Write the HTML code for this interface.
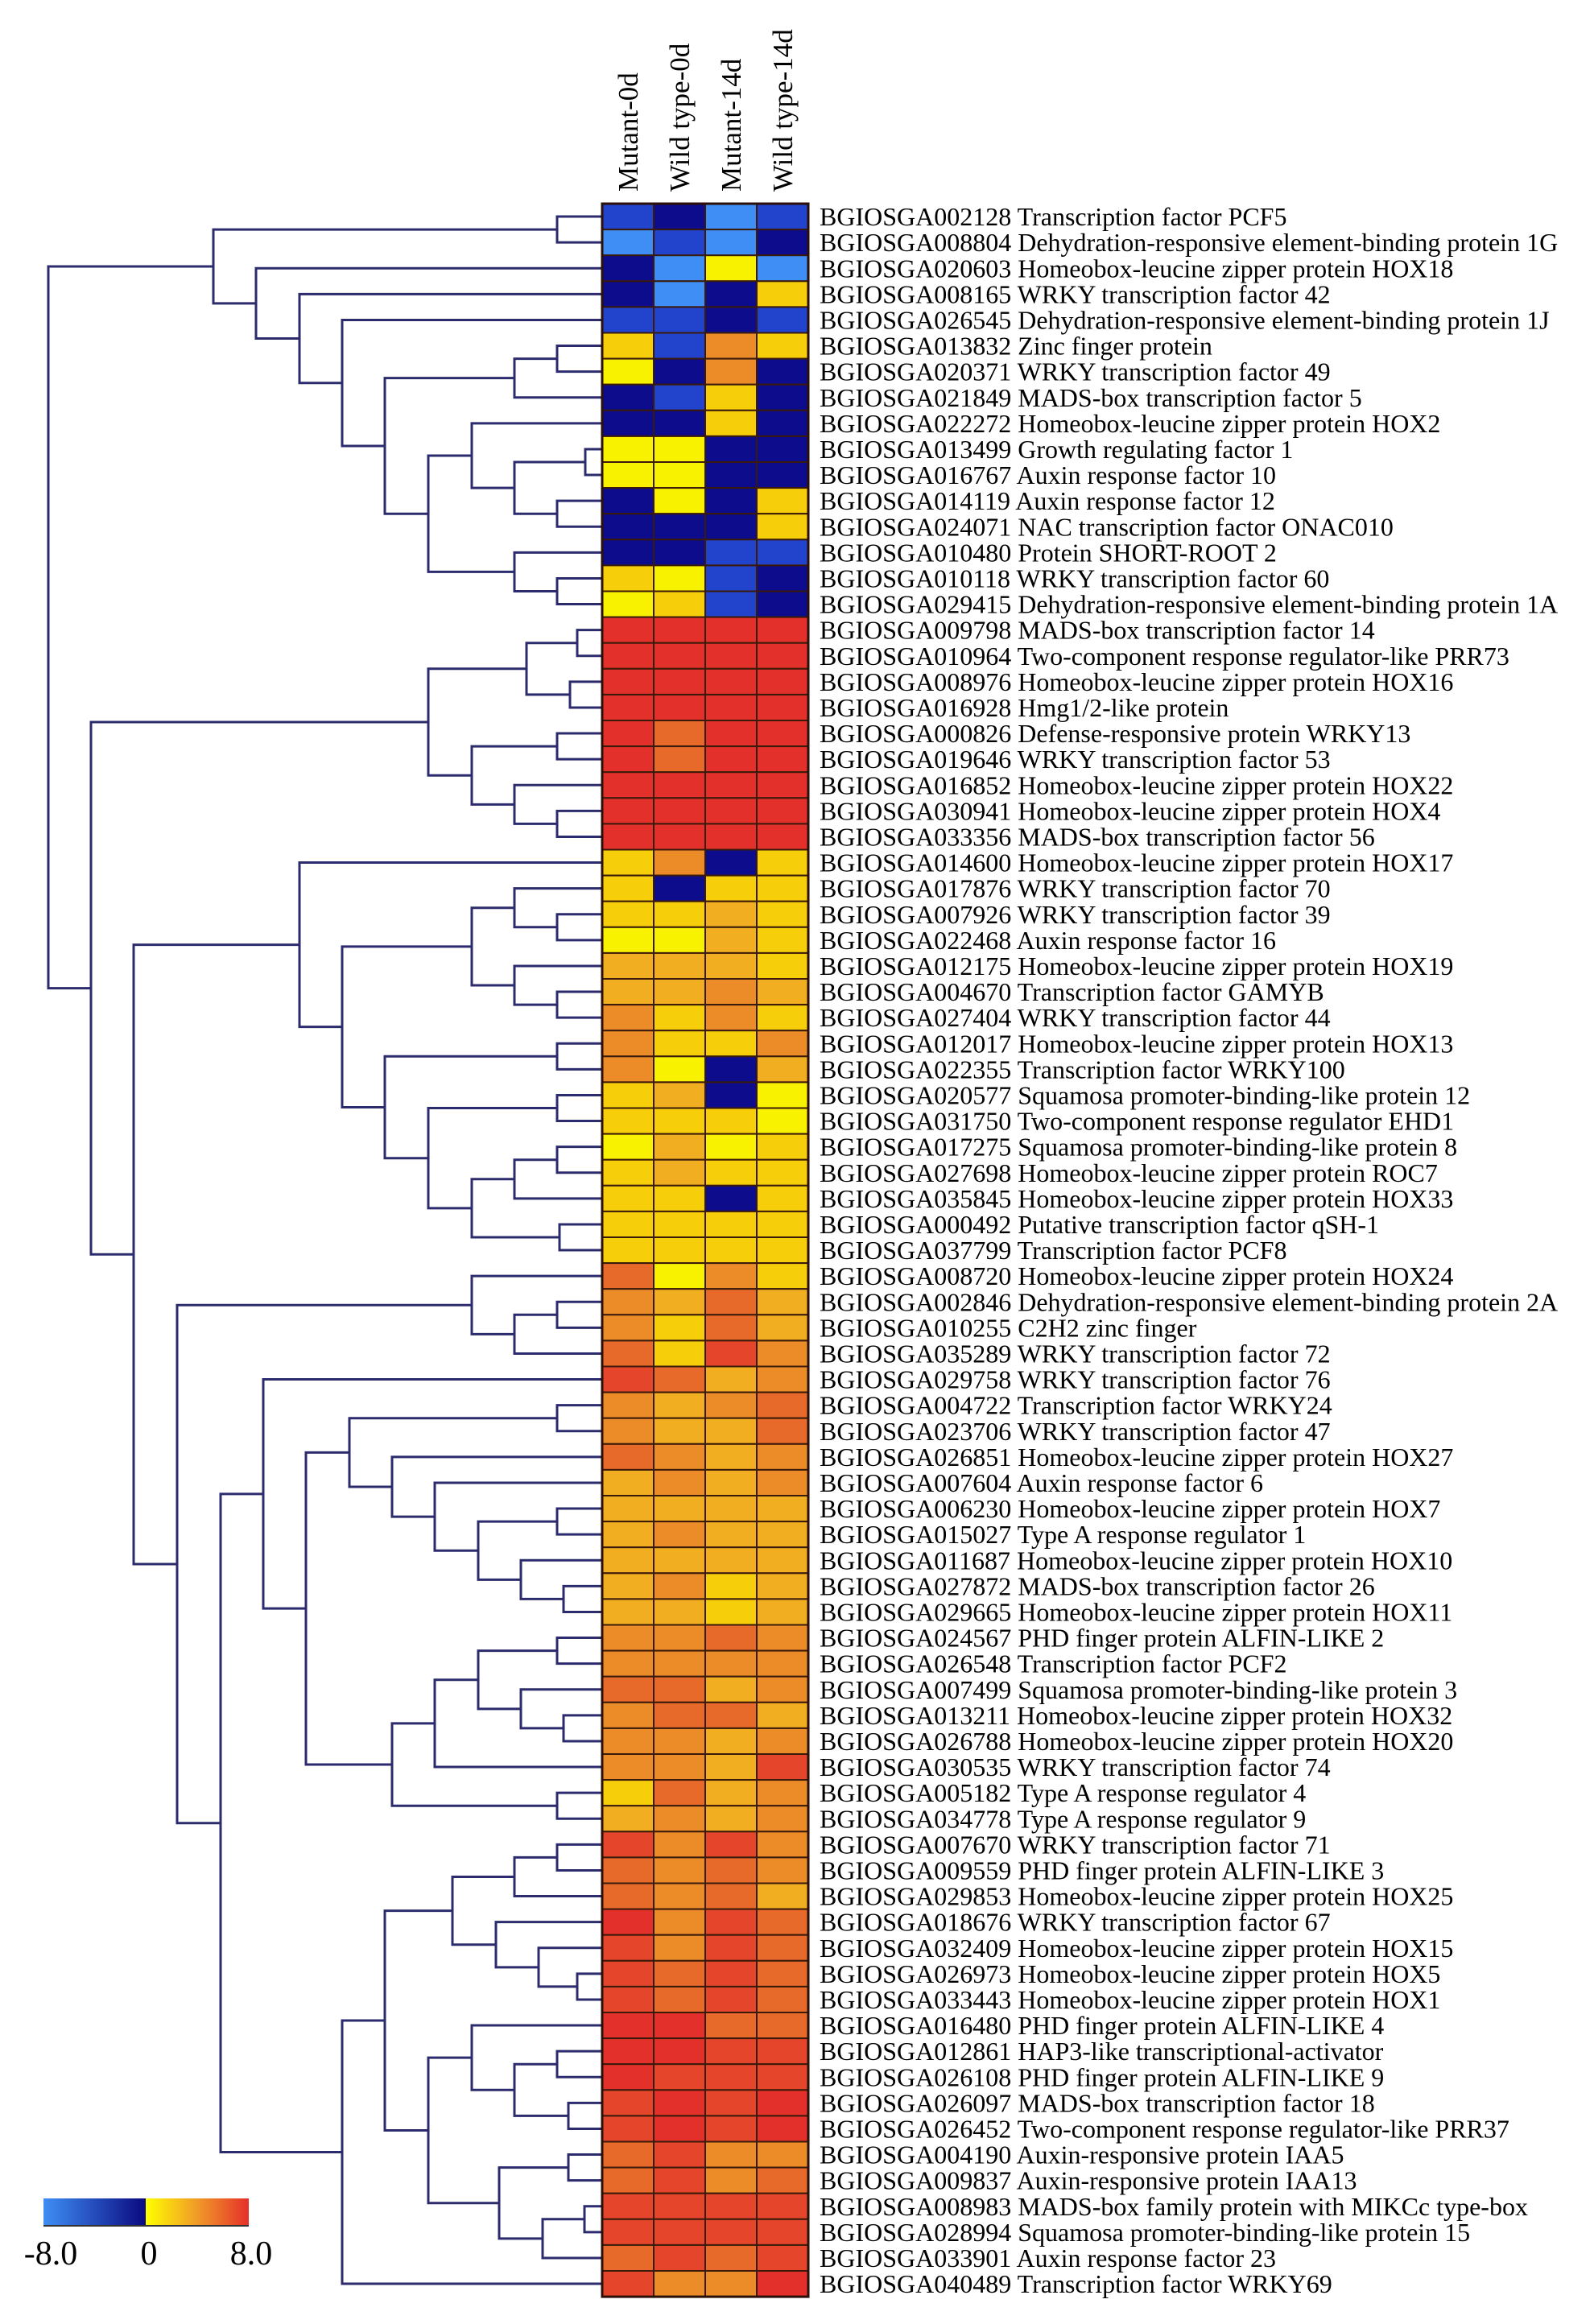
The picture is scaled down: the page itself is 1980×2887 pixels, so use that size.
<!DOCTYPE html>
<html><head><meta charset="utf-8"><style>
html,body{margin:0;padding:0;background:#fff;}
svg{display:block;}
</style></head><body>
<svg id="s" width="1980" height="2887" xmlns="http://www.w3.org/2000/svg">
<defs>
<linearGradient id="gb" x1="0" x2="1" y1="0" y2="0"><stop offset="0" stop-color="#3f8ef5"/><stop offset="1" stop-color="#0a0a80"/></linearGradient>
<linearGradient id="gy" x1="0" x2="1" y1="0" y2="0"><stop offset="0" stop-color="#ffff00"/><stop offset="0.5" stop-color="#f09a28"/><stop offset="1" stop-color="#e5302a"/></linearGradient>
</defs>
<rect width="1980" height="2887" fill="#fff"/>
<g id="heads" font-family="Liberation Serif, serif" font-size="35" fill="#000"></g>
<g id="tree" stroke="#2b2b6e" stroke-width="3" fill="none"></g>
<g id="cells"></g>
<g id="labels" font-family="Liberation Serif, serif" font-size="32" fill="#000"></g>
<rect x="54" y="2731" width="127" height="34" fill="url(#gb)"/>
<rect x="181" y="2731" width="128" height="34" fill="url(#gy)"/>
<line x1="54" y1="2765" x2="309" y2="2765" stroke="#333" stroke-width="2"/>
<g font-family="Liberation Serif, serif" font-size="42" fill="#000" text-anchor="middle">
<text x="63" y="2813">-8.0</text><text x="185" y="2813">0</text><text x="312" y="2813">8.0</text>
</g>
</svg>
<script>
var labels=["BGIOSGA002128 Transcription factor PCF5","BGIOSGA008804 Dehydration-responsive element-binding protein 1G","BGIOSGA020603 Homeobox-leucine zipper protein HOX18","BGIOSGA008165 WRKY transcription factor 42","BGIOSGA026545 Dehydration-responsive element-binding protein 1J","BGIOSGA013832 Zinc finger protein","BGIOSGA020371 WRKY transcription factor 49","BGIOSGA021849 MADS-box transcription factor 5","BGIOSGA022272 Homeobox-leucine zipper protein HOX2","BGIOSGA013499 Growth regulating factor 1","BGIOSGA016767 Auxin response factor 10","BGIOSGA014119 Auxin response factor 12","BGIOSGA024071 NAC transcription factor ONAC010","BGIOSGA010480 Protein SHORT-ROOT 2","BGIOSGA010118 WRKY transcription factor 60","BGIOSGA029415 Dehydration-responsive element-binding protein 1A","BGIOSGA009798 MADS-box transcription factor 14","BGIOSGA010964 Two-component response regulator-like PRR73","BGIOSGA008976 Homeobox-leucine zipper protein HOX16","BGIOSGA016928 Hmg1/2-like protein","BGIOSGA000826 Defense-responsive protein WRKY13","BGIOSGA019646 WRKY transcription factor 53","BGIOSGA016852 Homeobox-leucine zipper protein HOX22","BGIOSGA030941 Homeobox-leucine zipper protein HOX4","BGIOSGA033356 MADS-box transcription factor 56","BGIOSGA014600 Homeobox-leucine zipper protein HOX17","BGIOSGA017876 WRKY transcription factor 70","BGIOSGA007926 WRKY transcription factor 39","BGIOSGA022468 Auxin response factor 16","BGIOSGA012175 Homeobox-leucine zipper protein HOX19","BGIOSGA004670 Transcription factor GAMYB","BGIOSGA027404 WRKY transcription factor 44","BGIOSGA012017 Homeobox-leucine zipper protein HOX13","BGIOSGA022355 Transcription factor WRKY100","BGIOSGA020577 Squamosa promoter-binding-like protein 12","BGIOSGA031750 Two-component response regulator EHD1","BGIOSGA017275 Squamosa promoter-binding-like protein 8","BGIOSGA027698 Homeobox-leucine zipper protein ROC7","BGIOSGA035845 Homeobox-leucine zipper protein HOX33","BGIOSGA000492 Putative transcription factor qSH-1","BGIOSGA037799 Transcription factor PCF8","BGIOSGA008720 Homeobox-leucine zipper protein HOX24","BGIOSGA002846 Dehydration-responsive element-binding protein 2A","BGIOSGA010255 C2H2 zinc finger","BGIOSGA035289 WRKY transcription factor 72","BGIOSGA029758 WRKY transcription factor 76","BGIOSGA004722 Transcription factor WRKY24","BGIOSGA023706 WRKY transcription factor 47","BGIOSGA026851 Homeobox-leucine zipper protein HOX27","BGIOSGA007604 Auxin response factor 6","BGIOSGA006230 Homeobox-leucine zipper protein HOX7","BGIOSGA015027 Type A response regulator 1","BGIOSGA011687 Homeobox-leucine zipper protein HOX10","BGIOSGA027872 MADS-box transcription factor 26","BGIOSGA029665 Homeobox-leucine zipper protein HOX11","BGIOSGA024567 PHD finger protein ALFIN-LIKE 2","BGIOSGA026548 Transcription factor PCF2","BGIOSGA007499 Squamosa promoter-binding-like protein 3","BGIOSGA013211 Homeobox-leucine zipper protein HOX32","BGIOSGA026788 Homeobox-leucine zipper protein HOX20","BGIOSGA030535 WRKY transcription factor 74","BGIOSGA005182 Type A response regulator 4","BGIOSGA034778 Type A response regulator 9","BGIOSGA007670 WRKY transcription factor 71","BGIOSGA009559 PHD finger protein ALFIN-LIKE 3","BGIOSGA029853 Homeobox-leucine zipper protein HOX25","BGIOSGA018676 WRKY transcription factor 67","BGIOSGA032409 Homeobox-leucine zipper protein HOX15","BGIOSGA026973 Homeobox-leucine zipper protein HOX5","BGIOSGA033443 Homeobox-leucine zipper protein HOX1","BGIOSGA016480 PHD finger protein ALFIN-LIKE 4","BGIOSGA012861 HAP3-like transcriptional-activator","BGIOSGA026108 PHD finger protein ALFIN-LIKE 9","BGIOSGA026097 MADS-box transcription factor 18","BGIOSGA026452 Two-component response regulator-like PRR37","BGIOSGA004190 Auxin-responsive protein IAA5","BGIOSGA009837 Auxin-responsive protein IAA13","BGIOSGA008983 MADS-box family protein with MIKCc type-box","BGIOSGA028994 Squamosa promoter-binding-like protein 15","BGIOSGA033901 Auxin response factor 23","BGIOSGA040489 Transcription factor WRKY69"];
var cols="bnab aban naya nang bbnb gbog ynon nbgn nngn yynn yynn nyng nnng nnbb gybn ygbn RRRR RRRR RRRR RRRR RpRR RpRR RRRR RRRR RRRR gong gngg gghg yyhg hhhg hhoh ogog oggo oynh ghny gggy yhyg ghgg ggng gggg gggg pyog ohph ogph pgro rpho ohop ohhp poho hoho hhhh hohh hhhh hogh hhgh oopo oooo ppho opph ooho oohr gpho hoho roro popo poph Rorp rorp rprp rprp RRpp RRrr Rrrr rRrR rRrR proo prop rrrr rrrr prpr rooR".split(" ");
var pal={a:"#3f8ef5",b:"#2244cc",n:"#0c0c8c",y:"#f8f200",g:"#f6cf0a",h:"#f0ae20",o:"#ec8c28",p:"#e86a2a",r:"#e5452a",R:"#e3302a"};
var T=253,H=32.1,L=748,W=64;
function yc(i){return T+(i-0.5)*H;}
var cg=document.getElementById("cells"),lg=document.getElementById("labels"),hg=document.getElementById("heads"),tg=document.getElementById("tree");
var s="";
for(var i=0;i<81;i++){for(var c=0;c<4;c++){s+='<rect x="'+(L+c*W)+'" y="'+(T+i*H)+'" width="'+W+'" height="'+H+'" fill="'+pal[cols[i][c]]+'" stroke="#3a1a0a" stroke-width="2"/>';}}
s+='<rect x="'+L+'" y="'+T+'" width="'+(4*W)+'" height="'+(81*H)+'" fill="none" stroke="#2a1008" stroke-width="3"/>';
cg.innerHTML=s;
s="";
for(var i=0;i<81;i++){s+='<text x="1018" y="'+(yc(i+1)+11)+'">'+labels[i]+'</text>';}
lg.innerHTML=s;
var hd=["Mutant-0d","Wild type-0d","Mutant-14d","Wild type-14d"];s="";
for(var c=0;c<4;c++){var x=L+c*W+W/2+12;s+='<text transform="translate('+x+',238) rotate(-90)">'+hd[c]+'</text>';}
hg.innerHTML=s;
var F=[639,[692,6,7],8],Hn=[586,9,[639,[727,10,11],[692,12,13]]],I=[639,14,[692,15,16]],G=[532,Hn,I];
var A=[265,[692,1,2],[318,3,[372,4,[425,5,[478,F,G]]]]];
var K=[532,[654,[717,17,18],[708,19,20]],[586,[692,21,22],[639,23,[692,24,25]]]];
var S=[586,[639,27,[692,28,29]],[639,30,[692,31,32]]];
var Y=[586,[639,[692,37,38],39],[695,40,41]],V=[532,[692,35,36],Y],Tn=[478,[692,33,34],V];
var R=[425,S,Tn],P=[372,26,R];
var KK=[647,53,[700,54,55]],JJ=[594,[692,51,52],KK],II=[540,50,JJ],HH=[487,49,II],FF=[434,[692,47,48],HH];
var NN=[647,58,[700,59,60]],MM=[594,[692,56,57],NN],LL=[540,MM,61],GG=[487,LL,[692,62,63]];
var EE=[380,FF,GG],CC=[327,46,EE];
var RR=[639,[692,64,65],66],TT=[669,68,[717,69,70]],SS=[616,67,TT],PP=[562,RR,SS];
var WW=[639,[692,72,73],[706,74,75]],UU=[586,71,WW],ZZ=[674,[726,78,79],80],VV=[620,[706,76,77],ZZ],QQ=[532,UU,VV];
var OO=[478,PP,QQ],DD=[425,OO,81],BB=[274,CC,DD];
var Q=[220,[586,42,[639,[692,43,44],45]],BB];
var Ln=[166,P,Q];
var root=[60,A,[113,K,Ln]];
var d="";
function draw(n){ if(typeof n==="number"){return [yc(n),L];}
 var a=draw(n[1]),b=draw(n[2]),x=n[0];
 d+="M"+a[1]+" "+a[0]+"H"+x+"V"+b[0]+"H"+b[1];
 return [(a[0]+b[0])/2,x];}
draw(root);
tg.innerHTML='<path d="'+d+'"/>';
</script>
</body></html>
